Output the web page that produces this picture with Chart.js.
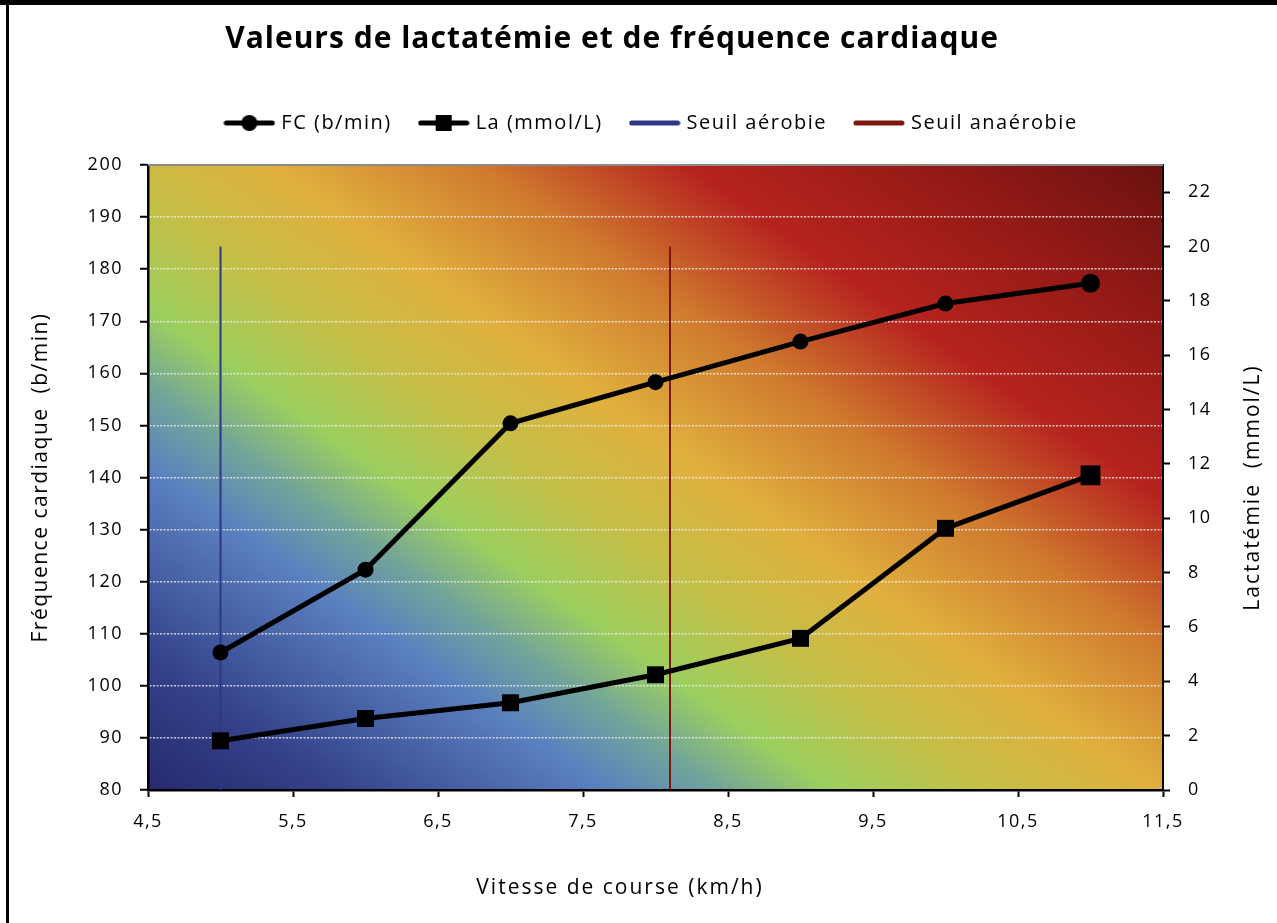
<!DOCTYPE html>
<html><head><meta charset="utf-8">
<script src="https://cdn.jsdelivr.net/npm/chart.js@4/dist/chart.umd.min.js"></script>
<style>
html,body{margin:0;padding:0;background:#fff;}
#wrap{position:relative;width:1277px;height:923px;overflow:hidden;}
#wrap:before{content:'';position:absolute;left:0;top:0;width:1277px;height:5px;background:#000;z-index:2}
#wrap:after{content:'';position:absolute;left:6px;top:0;width:3px;height:923px;background:#000;z-index:2}
canvas{display:block}
</style></head><body><div id="wrap"><canvas id="c" width="1277" height="923"></canvas></div>
<script>
// ---- data ----
const speeds = [5, 6, 7, 8, 9, 10, 11];
const fcValues = [106.4, 122.3, 150.4, 158.3, 166.1, 173.4, 177.3];
const laValues = [1.81, 2.63, 3.21, 4.24, 5.58, 9.63, 11.58];
const aerobicSpeed = [5, 5];
const anaerobicSpeed = [8.1, 8.1];
const thresholdLa = [0, 20];
const xTicks = [4.5, 5.5, 6.5, 7.5, 8.5, 9.5, 10.5, 11.5];
const fcTicks = [80, 90, 100, 110, 120, 130, 140, 150, 160, 170, 180, 190, 200];
const laTicks = [0, 2, 4, 6, 8, 10, 12, 14, 16, 18, 20, 22];
const xRange = [4.5, 11.5];
const fcRange = [80, 200];
const laRange = [0, 23];
const seriesNames = ['FC (b/min)', 'La (mmol/L)', 'Seuil aérobie', 'Seuil anaérobie'];
const titleText = 'Valeurs de lactatémie et de fréquence cardiaque';
const xTitle = 'Vitesse de course (km/h)';
const yTitle = 'Fréquence cardiaque  (b/min)';
const y2Title = 'Lactatémie  (mmol/L)';

const FONT = '"Open Sans"';
const SPACING = '1.5px';
const aerobicColor = '#2e3787';
const anaerobicColor = '#7d1712';

function fr(v){ return String(v).replace('.', ','); }
function pairs(xs, ys){ return xs.map((x,i)=>({x:x, y:ys[i]})); }

function legendIcon(kind, color){
  const c = document.createElement('canvas');
  c.width = 52; c.height = 22;
  const g = c.getContext('2d');
  g.strokeStyle = color; g.fillStyle = color; g.lineCap = 'round';
  g.lineWidth = 5;
  g.beginPath(); g.moveTo(3, 11); g.lineTo(49, 11); g.stroke();
  if (kind === 'circle'){ g.beginPath(); g.arc(26, 11, 8, 0, Math.PI*2); g.fill(); }
  if (kind === 'square'){ g.fillRect(18, 3, 16, 16); }
  return c;
}
const icons = [legendIcon('circle','#000'), legendIcon('square','#000'), legendIcon('line', aerobicColor), legendIcon('line', anaerobicColor)];

const bgPlugin = {
  id: 'bg',
  beforeLayout(chart){
    chart.ctx.letterSpacing = SPACING;
    const lg = chart.legend;
    if (lg && !lg._extraFit){
      const f = lg.fit;
      lg.fit = function(){ f.call(this); this.height += 22; };
      lg._extraFit = true;
    }
  },
  beforeDraw(chart){
    const {ctx, chartArea:a} = chart;
    const W = a.right - a.left, H = a.bottom - a.top;
    const dx = 480, dy = -682, n = Math.hypot(dx, dy);
    const ux = dx/n, uy = dy/n;
    const proj = W*ux + (-H)*uy;
    const g = ctx.createLinearGradient(a.left, a.bottom, a.left + ux*proj, a.bottom + uy*proj);
    g.addColorStop(0.00, '#262a6e');
    g.addColorStop(0.10, '#34428a');
    g.addColorStop(0.24, '#5a80c0');
    g.addColorStop(0.30, '#72a49a');
    g.addColorStop(0.36, '#9ccf5e');
    g.addColorStop(0.44, '#c4bf48');
    g.addColorStop(0.53, '#e0b03e');
    g.addColorStop(0.64, '#cf7a2e');
    g.addColorStop(0.75, '#b6231f');
    g.addColorStop(0.87, '#961a16');
    g.addColorStop(1.00, '#6a1210');
    ctx.save();
    ctx.fillStyle = '#fff'; ctx.fillRect(0,0,chart.width,chart.height);
    ctx.fillStyle = g;
    ctx.fillRect(a.left, a.top, W, H);
    ctx.restore();
    ctx.letterSpacing = SPACING;
  },
  beforeDatasetsDraw(chart){
    const {ctx, chartArea:a} = chart;
    ctx.save();
    ctx.strokeStyle = '#8a8a8a'; ctx.lineWidth = 2;
    ctx.beginPath(); ctx.moveTo(a.left, a.top); ctx.lineTo(a.right, a.top); ctx.stroke();
    ctx.restore();
  },
  afterDraw(chart){
    const {ctx, chartArea:a} = chart;
    ctx.save();
    ctx.fillStyle = '#000';
    ctx.letterSpacing = '1px';
    ctx.font = 'bold 30px ' + FONT;
    ctx.textAlign = 'center'; ctx.textBaseline = 'middle';
    ctx.fillText(titleText, 612, 39);
    ctx.letterSpacing = '2px';
    ctx.font = '21px ' + FONT;
    ctx.fillText(xTitle, 620, 888);
    const s2 = chart.scales.y2;
    ctx.translate(s2.right - 24, (a.top + a.bottom)/2 + 10);
    ctx.rotate(-Math.PI/2);
    ctx.fillText(y2Title, 0, 0);
    ctx.restore();
  }
};

const tickFont = {family: FONT, size: 18};

new Chart(document.getElementById('c'), {
  type: 'line',
  data: {
    datasets: [
      { label: seriesNames[0], data: pairs(speeds, fcValues), yAxisID: 'y',
        borderColor: '#000', backgroundColor: '#000', borderWidth: 5,
        pointStyle: 'circle', pointRadius: c => c.dataIndex === speeds.length-1 ? 9.5 : 8,
        pointBorderWidth: 0, tension: 0, order: 1 },
      { label: seriesNames[1], data: pairs(speeds, laValues), yAxisID: 'y2',
        borderColor: '#000', backgroundColor: '#000', borderWidth: 5,
        pointStyle: 'rect', pointRadius: c => c.dataIndex === speeds.length-1 ? 14 : 12,
        pointBorderWidth: 0, tension: 0, order: 2 },
      { label: seriesNames[2], data: pairs(aerobicSpeed, thresholdLa), yAxisID: 'y2',
        borderColor: aerobicColor, borderWidth: 2, pointRadius: 0, order: 3 },
      { label: seriesNames[3], data: pairs(anaerobicSpeed, thresholdLa), yAxisID: 'y2',
        borderColor: anaerobicColor, borderWidth: 2, pointRadius: 0, order: 4 }
    ]
  },
  options: {
    responsive: false,
    animation: false,
    devicePixelRatio: 1,
    layout: { padding: { left: 28, top: 83, right: 0, bottom: 0 } },
    plugins: {
      title: { display: false },
      tooltip: { enabled: false },
      legend: {
        position: 'top',
        labels: {
          usePointStyle: true,
          pointStyleWidth: 44,
          padding: 30,
          color: '#000',
          font: { family: FONT, size: 20 },
          generateLabels: chart => seriesNames.map((n, i) => ({
            text: n, pointStyle: icons[i], fillStyle: '#000', strokeStyle: '#000',
            lineWidth: 0, hidden: false, datasetIndex: i, fontColor: '#000'
          }))
        }
      }
    },
    scales: {
      x: {
        type: 'linear', position: 'bottom', min: xRange[0], max: xRange[1],
        afterBuildTicks: s => { s.ticks = xTicks.map(v => ({value: v})); },
        afterFit: s => { s.height = 133; },
        ticks: { font: tickFont, color: '#000', padding: 14, callback: v => fr(v), maxRotation: 0 },
        grid: { drawOnChartArea: false, tickColor: '#000', tickLength: 7, tickWidth: 2 },
        border: { color: '#000', width: 2.5 },
        title: { display: false, text: xTitle }
      },
      y: {
        type: 'linear', position: 'left', min: fcRange[0], max: fcRange[1],
        afterBuildTicks: s => { s.ticks = fcTicks.map(v => ({value: v})); },
        afterFit: s => { s.width = 120; },
        ticks: { font: tickFont, color: '#000', padding: 17 },
        grid: {
          color: c => (c.tick && (c.tick.value === fcRange[0] || c.tick.value === fcRange[1])) ? 'rgba(0,0,0,0)' : 'rgba(240,240,240,0.8)',
          lineWidth: 1.5, tickColor: '#000', tickLength: 8, tickWidth: 2
        },
        border: { color: '#000', width: 2.5, dash: [2, 1.5] },
        title: { display: true, text: yTitle, color: '#000', font: {family: FONT, size: 21}, padding: {top: 0, bottom: 0} }
      },
      y2: {
        type: 'linear', position: 'right', min: laRange[0], max: laRange[1],
        afterBuildTicks: s => { s.ticks = laTicks.map(v => ({value: v})); },
        afterFit: s => { s.width = 114; },
        ticks: { font: tickFont, color: '#000', padding: 18 },
        grid: { drawOnChartArea: false, tickColor: '#000', tickLength: 7, tickWidth: 2 },
        border: { color: '#000', width: 2 }
      }
    }
  },
  plugins: [bgPlugin]
});
</script></body></html>
